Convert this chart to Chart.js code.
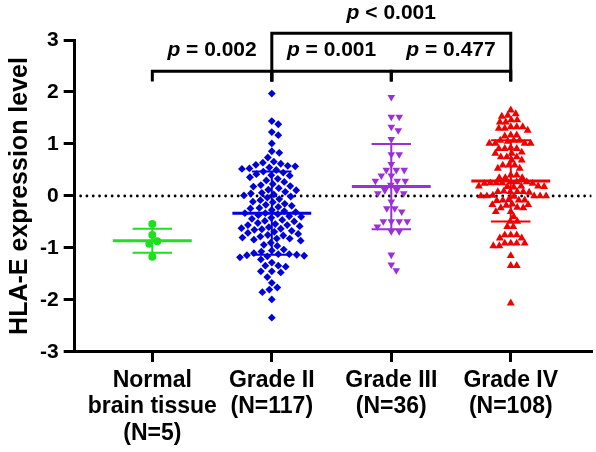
<!DOCTYPE html>
<html>
<head>
<meta charset="utf-8">
<script src="https://cdn.jsdelivr.net/npm/chart.js@4/dist/chart.umd.min.js"></script>
<style>
  body { margin: 0; background: #fff; }
</style>
</head>
<body>
<canvas id="myChart" width="596" height="452"></canvas>
<script>
const groupLabels = [
  ['Normal', 'brain tissue', '(N=5)'],
  ['Grade II', '(N=117)'],
  ['Grade III', '(N=36)'],
  ['Grade IV', '(N=108)'],
];
const groupColors = ['#1ee01e', '#0000dc', '#9b30d9', '#f00000'];
const yTicks = [-3, -2, -1, 0, 1, 2, 3];

const normalVals = [-0.54, -0.75, -0.87, -0.92, -1.17];
const grade2Vals = [
  1.97, 1.44, 1.38, 1.23, 1.17, 1.01, 0.86, 0.83, 0.74,
  0.66, 0.64, 0.62, 0.60, 0.58, 0.57, 0.55, 0.53, 0.52, 0.50,
  0.47, 0.45, 0.42, 0.40, 0.39, 0.36, 0.33, 0.30, 0.27,
  0.23, 0.21, 0.19, 0.18, 0.15, 0.12, 0.11, 0.08, 0.06, 0.05, 0.03, 0.01,
  -0.01, -0.03, -0.06, -0.08, -0.11, -0.12, -0.15, -0.17, -0.19, -0.21, -0.23, -0.24,
  -0.27, -0.29, -0.31, -0.33, -0.33, -0.35, -0.37, -0.39, -0.40, -0.42, -0.44, -0.46, -0.48, -0.49,
  -0.52, -0.54, -0.56, -0.56, -0.58, -0.60, -0.62, -0.63, -0.64, -0.65, -0.67, -0.69, -0.71, -0.73,
  -0.75, -0.76, -0.78, -0.80, -0.82, -0.82, -0.84, -0.86, -0.90, -0.94, -0.96,
  -1.03, -1.05, -1.07, -1.10, -1.12, -1.12, -1.13, -1.14, -1.15, -1.16, -1.18, -1.22,
  -1.28, -1.34, -1.34, -1.36, -1.45, -1.45, -1.47, -1.56, -1.67, -1.76, -1.80, -1.85, -1.99, -2.34,
];
const grade3Vals = [
  1.90, 1.52, 1.52, 1.33, 1.26, 1.09, 0.80, 0.80, 0.61, 0.50, 0.50, 0.50,
  0.39, 0.39, 0.29, 0.29, 0.29, 0.21, 0.11, 0.11, 0.05, 0.05, -0.11, -0.24,
  -0.24, -0.30, -0.49, -0.49, -0.49, -0.49, -0.59, -0.68, -0.68, -1.13, -1.32, -1.43,
];
const grade4Vals = [
  1.65, 1.58, 1.55, 1.53, 1.46, 1.46, 1.42, 1.42, 1.33, 1.33, 1.33, 1.30, 1.30, 1.26,
  1.17, 1.17, 1.15, 1.07, 1.07, 1.07, 1.05, 1.01, 1.01, 1.01, 1.01,
  0.91, 0.91, 0.91, 0.93, 0.82, 0.82, 0.84, 0.75, 0.75, 0.75, 0.69, 0.69,
  0.59, 0.59, 0.59, 0.53, 0.53, 0.40, 0.40, 0.35, 0.35, 0.35,
  0.27, 0.27, 0.27, 0.25, 0.25, 0.25, 0.24, 0.24,
  0.19, 0.19, 0.19, 0.18, 0.18, 0.17,
  0.08, 0.08, 0.08, 0.09, 0.07, 0.08,
  0.00, 0.00, 0.01, 0.00, -0.01, 0.00, 0.00,
  -0.08, -0.08, -0.08, -0.09, -0.07,
  -0.17, -0.17, -0.16, -0.18, -0.23, -0.23, -0.22, -0.30, -0.30,
  -0.40, -0.49, -0.49, -0.59, -0.59,
  -0.75, -0.75, -0.75, -0.81, -0.81, -0.91, -0.91, -0.91, -0.91, -0.96, -0.96,
  -1.15, -1.34, -1.34, -2.06,
];

// mean and SD as drawn in the figure
const meanVals = [-0.86, -0.33, 0.18, 0.29];
const sdVals = [0.23, 0.80, 0.82, 0.78];

// significance brackets: group pairs (1-based) and p texts
const pPairs = [[1, 2], [2, 3], [3, 4], [2, 4]];
const pTexts = ['= 0.002', '= 0.001', '= 0.477', '< 0.001'];

const FONT = '"Liberation Sans", Arial, sans-serif';
const X_MIN = 0.35, X_MAX = 4.675;

// rough plot geometry, only used to spread the dots sideways
const PX_PER_X = 120, PX_PER_Y = 52.2;

function swarm(vals, center, diam) {
  const placed = [];
  const order = vals.map((v, i) => i).sort((a, b) => vals[b] - vals[a]);
  const out = [];
  order.forEach(i => {
    const py = vals[i] * PX_PER_Y;
    let off = 0;
    for (let k = 0; k < 600; k++) {
      const cand = (k % 2 ? 1 : -1) * Math.ceil(k / 2) * 0.5;
      const hit = placed.some(p => (p.x - cand) ** 2 + (p.y - py) ** 2 < diam * diam);
      if (!hit) { off = cand; break; }
    }
    placed.push({ x: off, y: py });
    out.push({ x: center + off / PX_PER_X, y: vals[i] });
  });
  return out;
}

const allVals = [normalVals, grade2Vals, grade3Vals, grade4Vals];
const styles = [
  { pointStyle: 'circle', radius: 4, rotation: 0, diam: 8 },
  { pointStyle: 'rectRot', radius: 3.9, rotation: 0, diam: 7.2 },
  { pointStyle: 'triangle', radius: 4.4, rotation: 180, diam: 7.6 },
  { pointStyle: 'triangle', radius: 4.6, rotation: 0, diam: 5.8 },
];

const datasets = [];

datasets.push({
  type: 'line',
  data: [{ x: X_MIN + 0.05, y: 0 }, { x: X_MAX, y: 0 }],
  borderColor: '#000',
  borderWidth: 2.8,
  borderDash: [0, 6.3],
  borderCapStyle: 'round',
  pointRadius: 0,
  order: 10,
});

allVals.forEach((vals, g) => {
  const s = styles[g];
  datasets.push({
    type: 'scatter',
    data: swarm(vals, g + 1, s.diam),
    pointStyle: s.pointStyle,
    pointRadius: s.radius,
    rotation: s.rotation,
    backgroundColor: groupColors[g],
    borderColor: groupColors[g],
    borderWidth: 0,
    order: 2,
  });
});

meanVals.forEach((m, g) => {
  const c = g + 1, sd = sdVals[g];
  datasets.push({
    type: 'line',
    data: [{ x: c - 0.33, y: m }, { x: c + 0.33, y: m }],
    borderColor: groupColors[g],
    borderWidth: 3,
    pointRadius: 0,
    order: 0,
  });
  datasets.push({
    type: 'line',
    data: [
      { x: c, y: m - sd }, { x: c, y: m + sd }, { x: c, y: null },
      { x: c - 0.165, y: m + sd }, { x: c + 0.165, y: m + sd }, { x: c, y: null },
      { x: c - 0.165, y: m - sd }, { x: c + 0.165, y: m - sd },
    ],
    borderColor: groupColors[g],
    borderWidth: 2,
    pointRadius: 0,
    spanGaps: false,
    order: 0,
  });
});

const bracketPlugin = {
  id: 'brackets',
  afterDraw(chart) {
    const { ctx, scales: { x, y } } = chart;
    const foot = y.getPixelForValue(2.2);
    ctx.save();
    ctx.strokeStyle = '#000';
    ctx.fillStyle = '#000';
    ctx.lineWidth = 3;
    ctx.lineJoin = 'miter';
    ctx.textBaseline = 'middle';
    ctx.textAlign = 'left';
    pPairs.forEach(([a, b], i) => {
      const upper = b - a > 1;
      const yy = y.getPixelForValue(upper ? 3.13 : 2.4);
      const ty = y.getPixelForValue(upper ? 3.52 : 2.8);
      const x1 = x.getPixelForValue(a), x2 = x.getPixelForValue(b);
      ctx.beginPath();
      ctx.moveTo(x1, foot);
      ctx.lineTo(x1, yy);
      ctx.lineTo(x2, yy);
      ctx.lineTo(x2, foot);
      ctx.stroke();

      const rest = ' ' + pTexts[i];
      ctx.font = 'italic bold 21px ' + FONT;
      const w1 = ctx.measureText('p').width;
      ctx.font = 'bold 21px ' + FONT;
      const w2 = ctx.measureText(rest).width;
      const sx = (x1 + x2) / 2 - (w1 + w2) / 2;
      ctx.font = 'italic bold 21px ' + FONT;
      ctx.fillText('p', sx, ty);
      ctx.font = 'bold 21px ' + FONT;
      ctx.fillText(rest, sx + w1, ty);
    });
    ctx.restore();
  },
};

let ctx = document.getElementById('myChart').getContext('2d');
let myChart = new Chart(ctx, {
  type: 'scatter',
  data: { datasets },
  options: {
    responsive: false,
    animation: false,
    devicePixelRatio: 1,
    layout: { padding: { top: 40, right: 3, left: 5, bottom: 0 } },
    scales: {
      x: {
        type: 'linear',
        min: X_MIN,
        max: X_MAX,
        afterBuildTicks: axis => { axis.ticks = [1, 2, 3, 4].map(v => ({ value: v })); },
        ticks: {
          callback: v => groupLabels[v - 1],
          autoSkip: false,
          maxRotation: 0,
          color: '#000',
          padding: 5,
          font: { family: FONT, size: 23, weight: 'bold', lineHeight: 1.16 },
        },
        grid: { drawOnChartArea: false, drawTicks: true, tickLength: 10, lineWidth: 3, color: '#000' },
        border: { width: 3, color: '#000' },
      },
      y: {
        min: -3,
        max: 3,
        afterBuildTicks: axis => { axis.ticks = yTicks.map(v => ({ value: v })); },
        ticks: {
          color: '#000',
          padding: 5,
          font: { family: FONT, size: 21, weight: 'bold' },
        },
        grid: { drawOnChartArea: false, drawTicks: true, tickLength: 11, lineWidth: 3, color: '#000' },
        border: { width: 3, color: '#000' },
        title: {
          display: true,
          text: 'HLA-E expression level',
          color: '#000',
          padding: 0,
          font: { family: FONT, size: 25, weight: 'bold' },
        },
      },
    },
    plugins: {
      legend: { display: false },
      tooltip: { enabled: false },
    },
  },
  plugins: [bracketPlugin],
});
</script>
</body>
</html>
